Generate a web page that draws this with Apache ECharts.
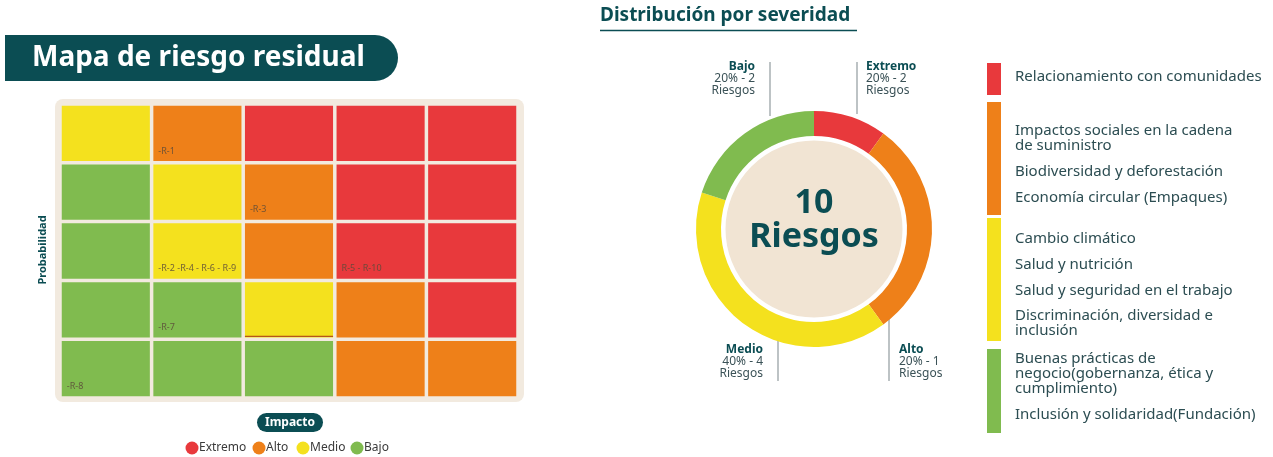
<!DOCTYPE html>
<html>
<head>
<meta charset="utf-8">
<script src="https://cdn.jsdelivr.net/npm/echarts@6/dist/echarts.min.js"></script>
<style>
  html, body { margin: 0; padding: 0; background: #ffffff; }
  #chart { width: 1273px; height: 457px; }
</style>
</head>
<body>
<div id="chart"></div>
<script>
// Heatmap axes (impacto -> x, probabilidad -> y, bottom row = 1)
const impacto = ['1', '2', '3', '4', '5'];
const probabilidad = ['1', '2', '3', '4', '5'];

// Severity of each cell, rows from probabilidad 5 (top) down to 1
const severityRows = [
    ['Medio', 'Alto', 'Extremo', 'Extremo', 'Extremo'],
    ['Bajo', 'Medio', 'Alto', 'Extremo', 'Extremo'],
    ['Bajo', 'Medio', 'Alto', 'Extremo', 'Extremo'],
    ['Bajo', 'Bajo', 'Medio', 'Alto', 'Extremo'],
    ['Bajo', 'Bajo', 'Bajo', 'Alto', 'Alto']
];

// Risks placed in cells: [impacto index, probabilidad index, label]
const riskCells = [
    [1, 4, '-R-1'],
    [2, 3, '-R-3'],
    [1, 2, '-R-2 -R-4 - R-6 - R-9'],
    [3, 2, 'R-5 - R-10'],
    [1, 1, '-R-7'],
    [0, 0, '-R-8']
];

const severityNames = ['Extremo', 'Alto', 'Medio', 'Bajo'];
const severityColors = ['#e8393c', '#ee8019', '#f4e11e', '#80bb4f'];

// Donut: number of risks per severity (arc sizes) and label texts
const riskCounts = [1, 3, 4, 2];
const donutLabels = [
    ['Extremo', '20% - 2', 'Riesgos'],
    ['Alto', '20% - 1', 'Riesgos'],
    ['Medio', '40% - 4', 'Riesgos'],
    ['Bajo', '20% - 2', 'Riesgos']
];

// Risk list by severity
const riskTopics = [
    ['Relacionamiento con comunidades'],
    ['Impactos sociales en la cadena\nde suministro', 'Biodiversidad y deforestación', 'Economía circular (Empaques)'],
    ['Cambio climático', 'Salud y nutrición', 'Salud y seguridad en el trabajo', 'Discriminación, diversidad e\ninclusión'],
    ['Buenas prácticas de\nnegocio(gobernanza, ética y\ncumplimiento)', 'Inclusión y solidaridad(Fundación)']
];

const teal = '#0b4d53';
const textColor = '#2c4d52';
const font = '"Noto Sans", sans-serif';

let chart;

function colorOf(sev) {
    return severityColors[severityNames.indexOf(sev)];
}

function buildHeatData() {
    const data = [];
    severityRows.forEach((row, r) => {
        row.forEach((sev, c) => {
            const y = probabilidad.length - 1 - r;
            const hit = riskCells.find(d => d[0] === c && d[1] === y);
            data.push({ value: [c, y, sev, hit ? hit[2] : ''] });
        });
    });
    return data;
}

function renderCell(params, api) {
    const center = api.coord([api.value(0), api.value(1)]);
    const size = api.size([1, 1]);
    const gap = 3.5;
    const x = center[0] - size[0] / 2 + gap / 2;
    const y = center[1] - size[1] / 2 + gap / 2;
    const w = size[0] - gap;
    const h = size[1] - gap;
    const children = [{
        type: 'rect',
        shape: { x: x, y: y, width: w, height: h },
        style: { fill: colorOf(api.value(2)) }
    }];
    const label = api.value(3);
    if (label) {
        children.push({
            type: 'text',
            x: x + 5,
            y: y + h - 10,
            style: {
                text: label, fill: '#5b4a3a', font: '9px ' + font,
                textVerticalAlign: 'middle', opacity: 0.85
            }
        });
    }
    // thin dark underline seen below the yellow cell (impacto 3, prob 2)
    if (api.value(0) === 2 && api.value(1) === 1) {
        children.push({
            type: 'line',
            shape: { x1: x, y1: y + h - 1, x2: x + w, y2: y + h - 1 },
            style: { stroke: '#b5561a', lineWidth: 1.2 }
        });
    }
    return { type: 'group', children: children };
}

function buildGraphics() {
    const g = [];
    // title pill
    g.push({
        type: 'rect', left: 5, top: 35,
        shape: { width: 393, height: 46, r: [0, 23, 23, 0] },
        style: { fill: teal }, z: 1
    });
    g.push({
        type: 'text', x: 32, y: 58, z: 2,
        style: { text: 'Mapa de riesgo residual', fill: '#ffffff', font: 'bold 28px ' + font, verticalAlign: 'middle' }
    });
    // heatmap panel
    g.push({
        type: 'rect', left: 55, top: 99, z: -1,
        shape: { width: 469, height: 303, r: 8 },
        style: { fill: '#f2eadf' }
    });
    // Probabilidad
    g.push({
        type: 'text', x: 43, y: 250, rotation: Math.PI / 2,
        style: { text: 'Probabilidad', fill: teal, font: 'bold 11px ' + font, align: 'center', verticalAlign: 'middle' }
    });
    // Impacto pill
    g.push({
        type: 'rect', left: 257, top: 413,
        shape: { width: 66, height: 19, r: 9.5 },
        style: { fill: teal }
    });
    g.push({
        type: 'text', x: 290, y: 422.5,
        style: { text: 'Impacto', fill: '#ffffff', font: 'bold 12px ' + font, align: 'center', verticalAlign: 'middle' }
    });
    // bottom legend
    const legendX = [192, 259, 303, 357];
    severityNames.forEach((name, i) => {
        g.push({
            type: 'circle', shape: { cx: legendX[i], cy: 448, r: 6.5 },
            style: { fill: severityColors[i] }
        });
        g.push({
            type: 'text', x: legendX[i] + 7, y: 448,
            style: { text: name, fill: '#3a3a3a', font: '12px ' + font, verticalAlign: 'middle' }
        });
    });

    // right title
    g.push({
        type: 'text', x: 600, y: 16,
        style: { text: 'Distribución por severidad', fill: teal, font: 'bold 19px ' + font, verticalAlign: 'middle' }
    });
    g.push({
        type: 'line', shape: { x1: 600, y1: 30.5, x2: 857, y2: 30.5 },
        style: { stroke: teal, lineWidth: 1.5 }
    });

    // donut labels with leader lines: [lineX, y1, y2, textX, textY, align]
    const labelPos = [
        [857, 62, 114, 866, 61, 'left'],
        [889, 318, 381, 899, 344, 'left'],
        [778, 335, 381, 763, 344, 'right'],
        [770, 62, 116, 755, 61, 'right']
    ];
    donutLabels.forEach((lab, i) => {
        const p = labelPos[i];
        g.push({
            type: 'line', shape: { x1: p[0], y1: p[1], x2: p[0], y2: p[2] },
            style: { stroke: '#9aa3a6', lineWidth: 1.3 }
        });
        g.push({
            type: 'text', x: p[3], y: p[4],
            style: {
                text: '{b|' + lab[0] + '}\n{n|' + lab[1] + '}\n{n|' + lab[2] + '}',
                align: p[5],
                rich: {
                    b: { font: 'bold 12px ' + font, fill: teal, lineHeight: 12, align: p[5] },
                    n: { font: '12px ' + font, fill: '#3b5257', lineHeight: 12, align: p[5] }
                }
            }
        });
    });

    // center text
    g.push({
        type: 'text', x: 814, y: 203, z: 100,
        style: { text: '10', fill: teal, font: 'bold 34px ' + font, align: 'center', verticalAlign: 'middle' }
    });
    g.push({
        type: 'text', x: 814, y: 237, z: 100,
        style: { text: 'Riesgos', fill: teal, font: 'bold 34px ' + font, align: 'center', verticalAlign: 'middle' }
    });

    // right legend
    const bars = [[63, 95], [102, 215], [218, 341], [349, 433]];
    const itemY = [
        [77],
        [138, 172, 198],
        [239, 265, 291, 323],
        [374, 415]
    ];
    riskTopics.forEach((items, i) => {
        g.push({
            type: 'rect', shape: { x: 987, y: bars[i][0], width: 14, height: bars[i][1] - bars[i][0] },
            style: { fill: severityColors[i] }
        });
        items.forEach((t, j) => {
            g.push({
                type: 'text', x: 1015, y: itemY[i][j],
                style: { text: t, fill: textColor, font: '15px ' + font, verticalAlign: 'middle', lineHeight: 15 }
            });
        });
    });
    return g;
}

function setupChart() {
    chart = echarts.init(document.getElementById('chart'), null, { renderer: 'canvas' });
    const option = {
        backgroundColor: '#ffffff',
        animation: false,
        grid: { left: 60, right: 755, top: 104, bottom: 59 },
        xAxis: {
            type: 'category', data: impacto,
            axisLine: { show: false }, axisTick: { show: false }, axisLabel: { show: false },
            splitLine: { show: false }
        },
        yAxis: {
            type: 'category', data: probabilidad,
            axisLine: { show: false }, axisTick: { show: false }, axisLabel: { show: false },
            splitLine: { show: false }
        },
        series: [
            {
                type: 'custom',
                renderItem: renderCell,
                data: buildHeatData(),
                silent: true
            },
            {
                type: 'pie',
                center: [814, 229],
                radius: [0, 90],
                silent: true,
                label: { show: false },
                data: [{ value: 1, itemStyle: { color: '#f1e4d3', borderColor: '#ffffff', borderWidth: 3 } }],
                z: 1
            },
            {
                type: 'pie',
                center: [814, 229],
                radius: [93, 118],
                startAngle: 90,
                clockwise: true,
                silent: true,
                label: { show: false },
                labelLine: { show: false },
                data: severityNames.map((n, i) => ({
                    name: n, value: riskCounts[i], itemStyle: { color: severityColors[i] }
                })),
                z: 2
            }
        ],
        graphic: buildGraphics()
    };
    chart.setOption(option);
}

setupChart();
window.addEventListener('resize', () => chart?.resize());
</script>
</body>
</html>
